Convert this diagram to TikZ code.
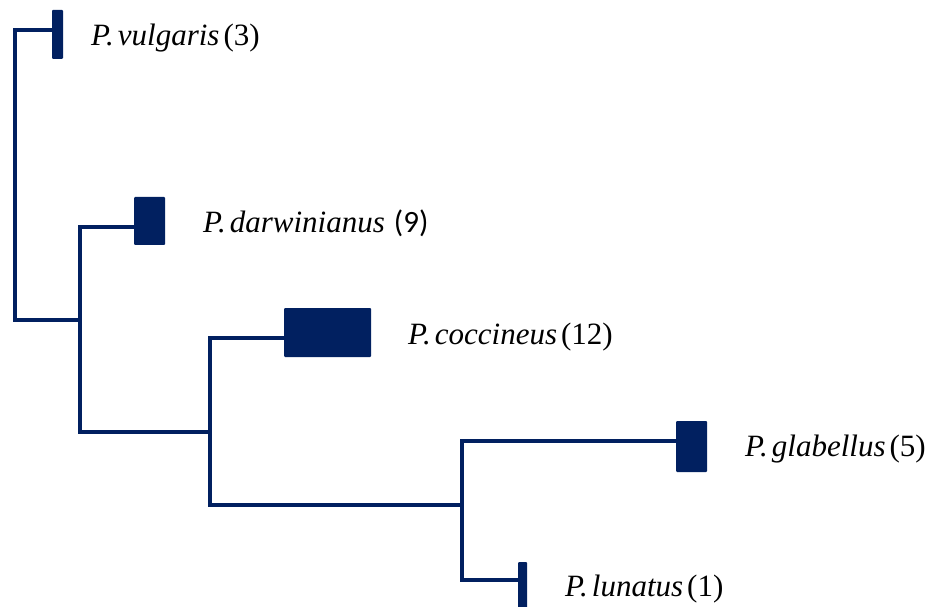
\documentclass[tikz,border=0pt]{standalone}
\usepackage{fontspec}
\setmainfont{Liberation Serif}
\newfontfamily\calib{Carlito}
\definecolor{navy}{RGB}{1,32,96}
\newcommand{\spn}[2]{\textit{P.\hspace{4pt}#1}\hspace{4pt}#2}
\tikzset{
  bar/.style={fill=navy, draw=none, rounded corners=1pt, inner sep=0pt, outer sep=0pt},
  edge/.style={draw=navy, line width=3.2pt, line join=miter},
  taxon/.style={anchor=base west, inner sep=0pt, font=\fontsize{31}{36}\selectfont}
}
\begin{document}
\begin{tikzpicture}[x=1pt,y=-1pt]
\useasboundingbox (0,0) rectangle (930,607);
% bars
\node[bar, minimum width=11, minimum height=49] (bv) at (57.5,34.5) {};
\node[bar, minimum width=31, minimum height=48] (bd) at (149.5,221) {};
\node[bar, minimum width=87, minimum height=49] (bc) at (327.5,332.5) {};
\node[bar, minimum width=31, minimum height=51] (bg) at (691.5,446.5) {};
\node[bar, minimum width=9, minimum height=50] (bl) at (522.5,587) {};
% internal nodes
\coordinate (r) at (15,320);
\coordinate (n1) at (80,320);
\coordinate (n2) at (210,432);
\coordinate (n3) at (462,505);
% connectors
\draw[edge] ([yshift=4.5pt]bv.west) -| (r) -- (n1);
\draw[edge] ([yshift=-6pt]bd.west) -| (n1);
\draw[edge] (n2) -| (n1);
\draw[edge] ([yshift=-5.5pt]bc.west) -| (n2);
\draw[edge] (n3) -| (n2);
\draw[edge] ([yshift=5.5pt]bg.west) -| (n3);
\draw[edge] ([yshift=7pt]bl.west) -| (n3);
% labels
\node[taxon] (tv) at (91,46) {\spn{vulgaris}{(3)}};
\node[taxon] (td) at (203,233) {\textit{P.\hspace{4pt}darwinianus}\hspace{9pt}{\calib (9)}};
\node[taxon] (tc) at (408,344) {\spn{coccineus}{(12)}};
\node[taxon] (tg) at (745,456) {\spn{glabellus}{(5)}};
\node[taxon] (tl) at (565,596) {\spn{lunatus}{(1)}};
\end{tikzpicture}
\end{document}
